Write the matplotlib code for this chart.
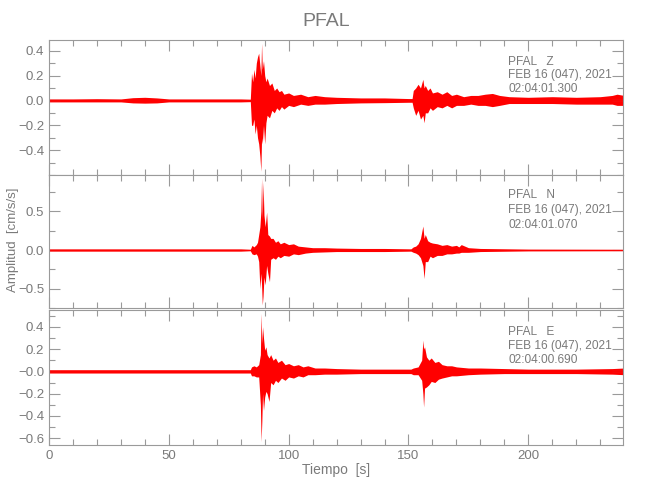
import matplotlib
matplotlib.use("Agg")
import matplotlib.pyplot as plt
from matplotlib.ticker import MultipleLocator, FixedLocator
import numpy as np

# ---------------- data (envelope) ----------------
station = "PFAL"
components = ["Z", "N", "E"]
date_text = "FEB 16 (047), 2021"
start_times = ["02:04:01.300", "02:04:01.070", "02:04:00.690"]

z_t = [0, 10, 20, 30, 35, 40, 45, 50, 60, 70, 80, 84, 84.5, 85, 85.5, 86, 86.5, 87, 87.5, 88, 88.4, 88.7,
       89, 89.5, 90, 90.5, 91, 92, 93, 94, 95, 96, 97, 98, 100, 102, 105, 108, 111, 115, 120, 130, 140,
       150, 151.5, 152, 153, 154, 155, 156, 156.5, 157, 158, 159, 160, 162, 164, 166, 168, 170, 173, 176,
       179, 182, 185, 188, 192, 200, 210, 220, 230, 235, 237, 240]
z_hi = [0.012, 0.012, 0.014, 0.012, 0.022, 0.025, 0.02, 0.012, 0.012, 0.012, 0.012, 0.01, 0.22, 0.15, 0.25,
        0.18, 0.30, 0.35, 0.38, 0.28, 0.20, 0.46, 0.25, 0.32, 0.20, 0.15, 0.18, 0.12, 0.14, 0.08, 0.10, 0.07,
        0.08, 0.05, 0.06, 0.04, 0.05, 0.03, 0.04, 0.03, 0.025, 0.02, 0.02, 0.015, 0.015, 0.08, 0.10, 0.13,
        0.10, 0.17, 0.10, 0.12, 0.08, 0.10, 0.06, 0.07, 0.05, 0.07, 0.04, 0.05, 0.03, 0.04, 0.04, 0.05,
        0.056, 0.04, 0.03, 0.025, 0.03, 0.025, 0.03, 0.04, 0.05, 0.04]
z_lo = [-0.012, -0.012, -0.012, -0.012, -0.02, -0.022, -0.02, -0.012, -0.012, -0.012, -0.012, -0.01, -0.20,
        -0.20, -0.15, -0.27, -0.20, -0.30, -0.35, -0.45, -0.57, -0.30, -0.35, -0.20, -0.35, -0.18, -0.12,
        -0.14, -0.08, -0.10, -0.06, -0.08, -0.05, -0.07, -0.04, -0.05, -0.03, -0.04, -0.03, -0.03, -0.025,
        -0.02, -0.018, -0.015, -0.015, -0.06, -0.12, -0.08, -0.15, -0.12, -0.18, -0.10, -0.10, -0.06, -0.08,
        -0.05, -0.06, -0.04, -0.06, -0.04, -0.04, -0.03, -0.04, -0.04, -0.05, -0.04, -0.025, -0.025, -0.025,
        -0.03, -0.03, -0.03, -0.04, -0.04]

n_t = [0, 20, 40, 60, 80, 84, 84.7, 85.5, 86.5, 87, 87.5, 88, 88.4, 88.7, 89, 89.3, 89.7, 90.2, 90.8, 91.3,
       92, 92.5, 93.5, 94.5, 95.5, 96.5, 98, 100, 102, 104, 107, 110, 115, 120, 130, 140, 151, 152, 153, 154,
       155, 156, 156.5, 157, 158, 159, 160, 162, 164, 166, 168, 170, 171, 172, 175, 180, 200, 240]
n_hi = [0.015, 0.015, 0.015, 0.015, 0.015, 0.01, 0.06, 0.04, 0.07, 0.10, 0.20, 0.30, 0.50, 0.93, 0.40, 0.88,
        0.45, 0.30, 0.49, 0.20, 0.18, 0.15, 0.15, 0.10, 0.12, 0.08, 0.10, 0.07, 0.08, 0.05, 0.04, 0.03, 0.03,
        0.025, 0.02, 0.02, 0.015, 0.04, 0.05, 0.08, 0.15, 0.31, 0.15, 0.20, 0.12, 0.10, 0.09, 0.08, 0.06, 0.07,
        0.05, 0.06, 0.04, 0.07, 0.03, 0.02, 0.012, 0.01]
n_lo = [-0.015, -0.015, -0.015, -0.015, -0.015, -0.01, -0.05, -0.06, -0.05, -0.08, -0.15, -0.50, -0.30, -0.45,
        -0.71, -0.60, -0.35, -0.45, -0.20, -0.30, -0.41, -0.12, -0.10, -0.12, -0.08, -0.10, -0.07, -0.08,
        -0.05, -0.06, -0.04, -0.03, -0.025, -0.02, -0.02, -0.02, -0.015, -0.03, -0.04, -0.06, -0.10, -0.20,
        -0.37, -0.15, -0.15, -0.08, -0.10, -0.07, -0.07, -0.05, -0.05, -0.04, -0.04, -0.03, -0.03, -0.02,
        -0.012, -0.01]

e_t = [0, 20, 40, 60, 80, 84, 84.5, 85.5, 86.5, 87.5, 88.2, 88.5, 88.8, 89.1, 89.5, 90, 90.5, 91, 91.8, 92.5,
       93.5, 94.5, 95.5, 97, 98.5, 100, 102, 104, 106, 108, 111, 115, 120, 130, 140, 151, 152, 154, 155.5,
       156, 156.3, 156.7, 157.5, 158.5, 159.5, 161, 162.5, 164, 166, 168, 170, 175, 180, 190, 200, 220, 235, 240]
e_hi = [0.015, 0.015, 0.015, 0.015, 0.015, 0.015, 0.04, 0.05, 0.04, 0.06, 0.15, 0.52, 0.25, 0.40, 0.30, 0.19,
        0.22, 0.15, 0.12, 0.15, 0.10, 0.12, 0.08, 0.10, 0.06, 0.07, 0.05, 0.06, 0.04, 0.05, 0.03, 0.03, 0.025,
        0.02, 0.02, 0.02, 0.03, 0.04, 0.10, 0.28, 0.20, 0.22, 0.13, 0.10, 0.12, 0.08, 0.09, 0.06, 0.05, 0.05,
        0.04, 0.03, 0.03, 0.025, 0.02, 0.02, 0.025, 0.03]
e_lo = [-0.015, -0.015, -0.015, -0.015, -0.015, -0.015, -0.04, -0.04, -0.05, -0.05, -0.30, -0.63, -0.45,
        -0.20, -0.35, -0.23, -0.18, -0.20, -0.27, -0.10, -0.12, -0.08, -0.10, -0.06, -0.08, -0.05, -0.06,
        -0.04, -0.05, -0.03, -0.03, -0.025, -0.025, -0.02, -0.02, -0.02, -0.03, -0.03, -0.08, -0.20, -0.32,
        -0.15, -0.14, -0.12, -0.09, -0.10, -0.07, -0.06, -0.05, -0.04, -0.04, -0.03, -0.025, -0.02, -0.02,
        -0.02, -0.025, -0.03]

y_limits = [(-0.60, 0.486), (-0.75, 0.97), (-0.66, 0.55)]
y_ticks = [[-0.4, -0.2, 0.0, 0.2, 0.4], [-0.5, 0.0, 0.5], [-0.6, -0.4, -0.2, 0.0, 0.2, 0.4]]
y_ticklabels = [["\u22120.4", "\u22120.2", "0.0", "0.2", "0.4"],
                ["\u22120.5", "0.0", "0.5"],
                ["\u22120.6", "\u22120.4", "\u22120.2", "\u22120.0", "0.2", "0.4"]]
y_minor = [0.1, 0.25, 0.1]
x_ticks = [0, 50, 100, 150, 200]

# ---------------- styling ----------------
plt.rcParams['font.family'] = ['Liberation Sans Narrow', 'Liberation Sans', 'DejaVu Sans']
TXT = '#7a7a7a'
SP = '#9a9a9a'
RED = '#ff0000'

fig = plt.figure(figsize=(6.5, 5.0), dpi=100)
L, W = 49 / 650, (623 - 49) / 650
boxes = [(40, 175), (175, 308), (310, 445)]
series = [(z_t, z_hi, z_lo), (n_t, n_hi, n_lo), (e_t, e_hi, e_lo)]
text_rows = [(0.839, 0.741, 0.635), (0.85, 0.735, 0.624), (0.839, 0.736, 0.63)]

axes = []
for i, (top, bot) in enumerate(boxes):
    ax = fig.add_axes([L, 1 - bot / 500, W, (bot - top) / 500])
    axes.append(ax)
    t, hi, lo = series[i]
    ax.fill_between(t, lo, hi, color=RED, linewidth=0)
    ax.plot(t, [0] * len(t), color=RED, lw=0.7)
    ax.set_xlim(0, 239.5)
    ax.set_ylim(*y_limits[i])
    ax.yaxis.set_major_locator(FixedLocator(y_ticks[i]))
    ax.set_yticklabels(y_ticklabels[i])
    ax.yaxis.set_minor_locator(MultipleLocator(y_minor[i]))
    ax.xaxis.set_major_locator(FixedLocator(x_ticks))
    ax.xaxis.set_minor_locator(MultipleLocator(10))
    ax.tick_params(which='both', direction='in', top=True, right=True, colors=SP,
                   labelcolor=TXT, labelsize=9.5, width=0.8)
    ax.tick_params(which='major', length=8)
    ax.tick_params(which='minor', length=4)
    for s in ax.spines.values():
        s.set_color(SP)
        s.set_linewidth(0.8)
    if i < 2:
        ax.tick_params(labelbottom=False)
    comp_lines = [f"{station}   {components[i]}", date_text, start_times[i]]
    for yy, s in zip(text_rows[i], comp_lines):
        ax.text(0.80, yy, s, transform=ax.transAxes, color=TXT, fontsize=8.6,
                ha='left', va='center')

fig.text(0.502, 0.956, station, color=TXT, fontsize=14, ha='center', va='center')
fig.text(0.02, 0.52, "Amplitud  [cm/s/s]", color=TXT, fontsize=9.5, rotation=90,
         ha='center', va='center')
fig.text(0.517, 0.06, "Tiempo  [s]", color=TXT, fontsize=10, ha='center', va='center')

fig.savefig("out.png", dpi=100)
